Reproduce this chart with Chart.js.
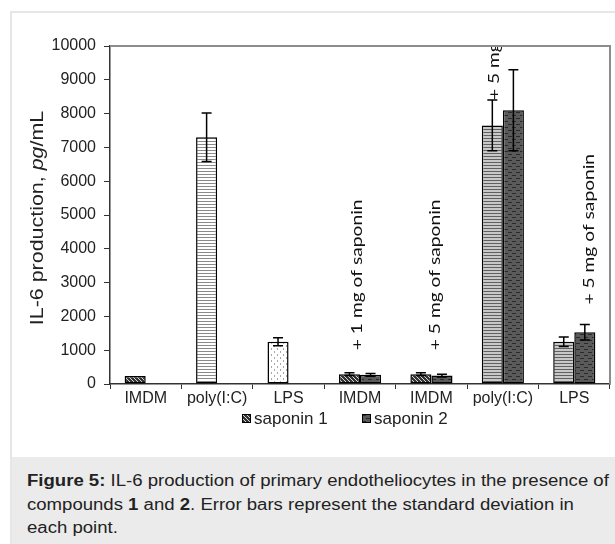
<!DOCTYPE html>
<html>
<head>
<meta charset="utf-8">
<script src="https://cdn.jsdelivr.net/npm/chart.js@4/dist/chart.umd.min.js"></script>
<style>
  html, body { margin: 0; padding: 0; background: #fff; }
  body { width: 615px; height: 544px; position: relative; overflow: hidden; font-family: "Liberation Sans", Arial, sans-serif; }
  #frame { position: absolute; left: 10px; top: 11px; width: 605px; height: 533px; border-top: 2px solid #e6e6e6; border-left: 2px solid #e6e6e6; box-sizing: border-box; }
  #wrap { position: absolute; left: 0; top: 0; width: 615px; height: 457px; }
  #legend { position: absolute; top: 408px; height: 22px; left: 0; width: 615px; font-size: 17px; line-height: 22px; color: #222; }
  .item { position: absolute; top: 0; white-space: nowrap; }
  .item canvas { position: absolute; top: 6px; left: 0; width: 9px; height: 9px; }
  .item span { position: absolute; left: 12px; top: 0; }
  #caption { position: absolute; left: 12px; top: 457px; width: 603px; height: 87px; background: #ebebeb; box-sizing: border-box; padding: 12px 0 0 15px; color: #222; white-space: nowrap; }
  #caption div { font-size: 16px; line-height: 23.5px; transform: scaleX(1.16); transform-origin: 0 0; }
</style>
</head>
<body>
<div id="frame"></div>
<div id="wrap"><canvas id="c"></canvas></div>
<div id="legend"></div>
<div id="caption"><div><b>Figure 5:</b> IL-6 production of primary endotheliocytes in the presence of<br>compounds <b>1</b> and <b>2</b>. Error bars represent the standard deviation in<br>each point.</div></div>
<script>
// ---- data ----
const categories = ['IMDM', 'poly(I:C)', 'LPS', 'IMDM', 'IMDM', 'poly(I:C)', 'LPS'];
const saponin1 = [240, 7300, 1250, 290, 290, 7650, 1250];
const saponin1Err = [0, 720, 120, 40, 40, 750, 140];
const saponin2 = [null, null, null, 270, 250, 8100, 1530];
const saponin2Err = [null, null, null, 40, 40, 1200, 230];
const seriesNames = ['saponin 1', 'saponin 2'];
const yMin = 0, yMax = 10000, yStep = 1000;
const yTitleParts = [['IL-6 production, ', false], ['pg', true], ['/mL', false]];
const annoText = ['+ 1 mg of saponin', '+ 5 mg of saponin', '+ 5 mg of saponin', '+ 5 mg of saponin'];
const annoCat = [3, 4, 5, 6];
const annoShift = [-0.04, 0.05, -0.12, 0.2];
const annoFrom = [1000, 1000, 8400, 2350];

// ---- patterns ----
function makeTile(kind) {
  const c = document.createElement('canvas');
  const x = c.getContext('2d');
  if (kind === 'diag') {
    c.width = 4; c.height = 4;
    x.fillStyle = '#333'; x.fillRect(0, 0, 4, 4);
    x.fillStyle = '#d8d8d8';
    for (let i = 0; i < 4; i++) x.fillRect(i, i, 1, 1);
  } else if (kind === 'hwhite') {
    c.width = 3; c.height = 3;
    x.fillStyle = '#fff'; x.fillRect(0, 0, 3, 3);
    x.fillStyle = '#8a8a8a'; x.fillRect(0, 0, 3, 1);
  } else if (kind === 'dots') {
    c.width = 6; c.height = 6;
    x.fillStyle = '#fff'; x.fillRect(0, 0, 6, 6);
    x.fillStyle = '#a8a8a8';
    x.fillRect(1, 0, 1, 2); x.fillRect(4, 3, 1, 2);
  } else if (kind === 'hgrey') {
    c.width = 3; c.height = 3;
    x.fillStyle = '#c8c8c8'; x.fillRect(0, 0, 3, 3);
    x.fillStyle = '#606060'; x.fillRect(0, 0, 3, 1);
  } else if (kind === 'dark') {
    c.width = 8; c.height = 6;
    x.fillStyle = '#5a5a5a'; x.fillRect(0, 0, 8, 6);
    x.fillStyle = '#2a2a2a';
    x.fillRect(0, 1, 4, 1); x.fillRect(4, 4, 4, 1);
  }
  return c;
}
function makePattern(kind) { const t = makeTile(kind); return t.getContext('2d').createPattern(t, 'repeat'); }
const pDiag = makePattern('diag');
const pHWhite = makePattern('hwhite');
const pDots = makePattern('dots');
const pHGrey = makePattern('hgrey');
const pDark = makePattern('dark');
const saponin1Fill = [pDiag, pHWhite, pDots, pDiag, pDiag, pHGrey, pHGrey];

// ---- legend (HTML) ----
const legendKinds = ['diag', 'dark'];
const legendLeft = [242, 362];
const legendEl = document.getElementById('legend');
seriesNames.forEach((name, i) => {
  const item = document.createElement('div');
  item.className = 'item';
  item.style.left = legendLeft[i] + 'px';
  const sw = document.createElement('canvas');
  sw.width = 9; sw.height = 9;
  const sx = sw.getContext('2d');
  sx.fillStyle = sx.createPattern(makeTile(legendKinds[i]), 'repeat');
  sx.fillRect(0, 0, 9, 9);
  sx.strokeStyle = '#000'; sx.lineWidth = 1; sx.strokeRect(0.5, 0.5, 8, 8);
  const sp = document.createElement('span');
  sp.textContent = name;
  item.appendChild(sw); item.appendChild(sp);
  legendEl.appendChild(item);
});

const FONT = 'Liberation Sans';

const errorBars = {
  id: 'errorBars',
  afterDatasetsDraw(chart) {
    const ctx = chart.ctx;
    const y = chart.scales.y;
    const errs = [saponin1Err, saponin2Err];
    ctx.save();
    ctx.strokeStyle = '#000';
    ctx.lineWidth = 1.5;
    errs.forEach((arr, d) => {
      const meta = chart.getDatasetMeta(d);
      const vals = chart.data.datasets[d].data;
      arr.forEach((e, i) => {
        if (!e || vals[i] == null) return;
        const bar = meta.data[i];
        const yt = y.getPixelForValue(vals[i] + e);
        const yb = y.getPixelForValue(vals[i] - e);
        ctx.beginPath();
        ctx.moveTo(bar.x, yt); ctx.lineTo(bar.x, yb);
        ctx.moveTo(bar.x - 5, yt); ctx.lineTo(bar.x + 5, yt);
        ctx.moveTo(bar.x - 5, yb); ctx.lineTo(bar.x + 5, yb);
        ctx.stroke();
      });
    });
    ctx.restore();
  }
};

const annotations = {
  id: 'annotations',
  afterDatasetsDraw(chart) {
    const ctx = chart.ctx, a = chart.chartArea;
    const xs = chart.scales.x, ys = chart.scales.y;
    const catW = (a.right - a.left) / categories.length;
    ctx.save();
    ctx.beginPath();
    ctx.rect(a.left, a.top, a.right - a.left, a.bottom - a.top);
    ctx.clip();
    ctx.fillStyle = '#111';
    ctx.font = '16px Lato';
    ctx.textAlign = 'left';
    ctx.textBaseline = 'middle';
    annoText.forEach((t, k) => {
      const px = xs.getPixelForValue(annoCat[k]) + annoShift[k] * catW;
      const py = ys.getPixelForValue(annoFrom[k]);
      ctx.save();
      ctx.translate(px, py);
      ctx.rotate(-Math.PI / 2);
      ctx.scale(1.2, 1);
      ctx.fillText(t, 0, 0);
      ctx.restore();
    });
    ctx.restore();
  }
};

const frameAndTitle = {
  id: 'frameAndTitle',
  afterDraw(chart) {
    const ctx = chart.ctx, a = chart.chartArea;
    ctx.save();
    ctx.strokeStyle = '#8c8c8c';
    ctx.lineWidth = 2;
    ctx.beginPath();
    ctx.moveTo(a.left, a.top);
    ctx.lineTo(a.right, a.top);
    ctx.lineTo(a.right, a.bottom);
    ctx.stroke();
    const cy = (a.top + a.bottom) / 2 + 3;
    ctx.translate(38, cy);
    ctx.rotate(-Math.PI / 2);
    ctx.scale(1.19, 1);
    ctx.fillStyle = '#222';
    ctx.textBaseline = 'middle';
    ctx.textAlign = 'left';
    const fonts = yTitleParts.map(p => (p[1] ? 'italic ' : '') + '18px "' + FONT + '"');
    let total = 0;
    const widths = yTitleParts.map((p, i) => { ctx.font = fonts[i]; const w = ctx.measureText(p[0]).width; total += w; return w; });
    let x = -total / 2;
    yTitleParts.forEach((p, i) => { ctx.font = fonts[i]; ctx.fillText(p[0], x, 0); x += widths[i]; });
    ctx.restore();
  }
};

new Chart(document.getElementById('c'), {
  type: 'bar',
  data: {
    labels: categories,
    datasets: [
      { label: seriesNames[0], data: saponin1, backgroundColor: saponin1Fill, borderColor: '#000', borderWidth: 1.5, borderSkipped: false },
      { label: seriesNames[1], data: saponin2, backgroundColor: pDark, borderColor: '#000', borderWidth: 1.5, borderSkipped: false }
    ]
  },
  options: {
    responsive: true,
    maintainAspectRatio: false,
    animation: false,
    devicePixelRatio: 1,
    categoryPercentage: 0.59,
    barPercentage: 1.0,
    layout: { padding: { top: 46, right: 5, bottom: 48, left: 0 } },
    plugins: {
      tooltip: { enabled: false },
      legend: { display: false }
    },
    scales: {
      x: {
        grid: { display: true, offset: true, drawOnChartArea: false, drawTicks: true, tickLength: 5, color: '#333', lineWidth: 1 },
        border: { display: true, color: '#333', width: 1.5 },
        ticks: { font: { family: FONT, size: 16 }, color: '#222', padding: 0, maxRotation: 0, autoSkip: false },
        afterFit(s) { s.height = 25; }
      },
      y: {
        min: yMin, max: yMax,
        grid: { drawOnChartArea: false, drawTicks: true, tickLength: 6, color: '#333' },
        border: { display: true, color: '#333', width: 1.5 },
        ticks: { stepSize: yStep, font: { family: FONT, size: 16 }, color: '#222', padding: 8, callback: v => String(v) },
        afterFit(s) { s.width = 110; }
      }
    }
  },
  plugins: [errorBars, annotations, frameAndTitle]
});
</script>
</body>
</html>
